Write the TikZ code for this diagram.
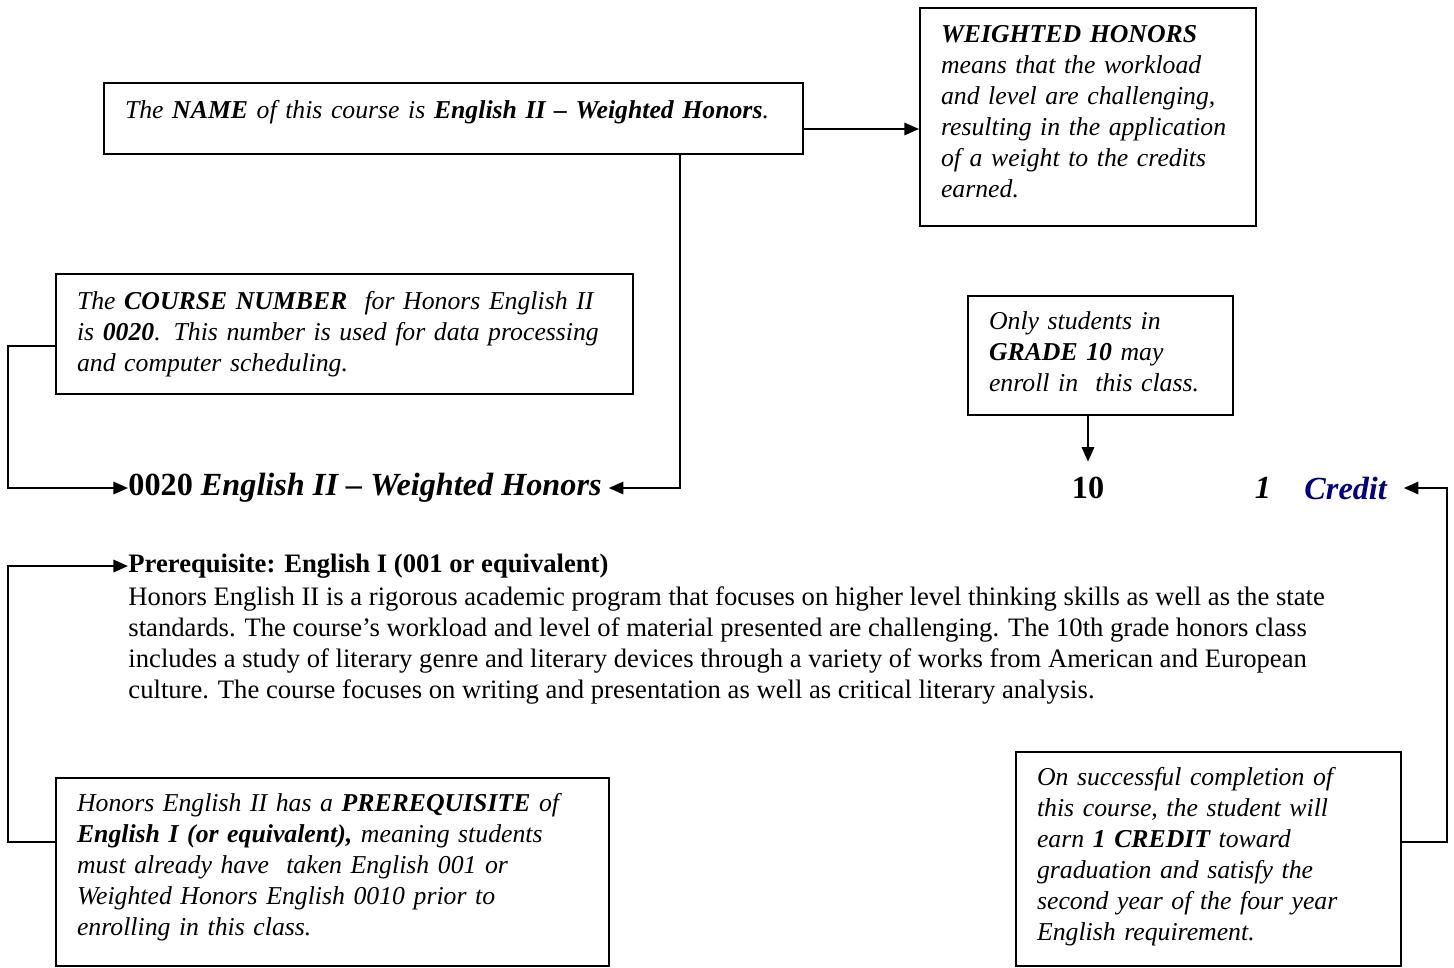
\documentclass[tikz,border=0pt]{standalone}
\usepackage{fontspec}
\setmainfont{Liberation Serif}
\usetikzlibrary{arrows.meta}
\definecolor{creditblue}{RGB}{0,0,128}
\newcommand{\lowpad}[1]{\rule[-#1]{0pt}{0pt}}

\begin{document}
\begin{tikzpicture}[x=0.4467pt, y=-0.4467pt,
    every node/.style={inner sep=0pt},
    infobox/.style={draw, line width=0.9pt, anchor=north west, align=left, inner xsep=9.4pt, inner ysep=0pt, font=\fontsize{11.5}{13.85}\selectfont\itshape},
    bigtext/.style={font=\fontsize{14.4}{16}\selectfont\bfseries},
    conn/.style={line width=0.9pt, -{Triangle[length=6.5pt, width=5.5pt]}}]
            \useasboundingbox (0,0) rectangle (1454,967);

            \node[infobox, text width=293.5pt, minimum height=31.7pt] (namebox) at (103,82) {The \textbf{NAME} of this course is \textbf{English II – Weighted Honors}.\lowpad{7.9pt}};
            \node[infobox, text width=131.3pt, minimum height=97.4pt] (weightbox) at (919,7) {\textbf{WEIGHTED HONORS}\\ means that the workload\\ and level are challenging,\\ resulting in the application\\ of a weight to the credits\\ earned.\lowpad{5.4pt}};
            \node[infobox, text width=239pt, minimum height=53.6pt] (numberbox) at (55,273) {The \textbf{COURSE NUMBER}\ \ for Honors English II\\ is \textbf{0020}. This number is used for data processing\\ and computer scheduling.};
            \node[infobox, text width=99.6pt, minimum height=53.2pt] (gradebox) at (967,295) {Only students in\\ \textbf{GRADE 10} may\\ enroll in\ \ this class.\lowpad{3.6pt}};
            \node[infobox, text width=228.3pt, minimum height=84pt] (prereqbox) at (55,777) {Honors English II has a \textbf{PREREQUISITE} of\\ \textbf{English I (or equivalent),} meaning students\\ must already have\ \ taken English 001 or\\ Weighted Honors English 0010 prior to\\ enrolling in this class.\lowpad{7pt}};
            \node[infobox, text width=153.2pt, minimum height=95.6pt] (creditbox) at (1015,751) {On successful completion of\\ this course, the student will\\ earn \textbf{1 CREDIT} toward\\ graduation and satisfy the\\ second year of the four year\\ English requirement.\lowpad{4.7pt}};

            \node[bigtext, anchor=west] (title) at (128,488) {0020 \textit{English II – Weighted Honors}};
            \node[bigtext] (grade) at (1088,488) {10};
            \node[bigtext] (one) at (1263,488) {\textit{1}};
            \node[bigtext, anchor=west, text=creditblue] (credit) at (1304,488) {\textit{Credit}};

            \node[anchor=west, font=\fontsize{11.9}{13.85}\selectfont\bfseries] (prereq) at (128,566) {Prerequisite: English I (001 or equivalent)};
            \node[anchor=north west, align=left, font=\fontsize{11.9}{13.85}\selectfont] (desc) at (128,586) {Honors English II is a rigorous academic program that focuses on higher level thinking skills as well as the state\\ standards. The course's workload and level of material presented are challenging. The 10th grade honors class\\ includes a study of literary genre and literary devices through a variety of works from American and European\\ culture. The course focuses on writing and presentation as well as critical literary analysis.};

            \draw[conn] (namebox.east |- 0,129) -- (weightbox.west |- 0,129);
            \draw[conn, shorten >=3pt] (namebox.south -| 680,0) |- (title.east);
            \draw[conn] (numberbox.west |- 0,346) -- (8,346) |- (title.west);
            \draw[conn, shorten >=6.7pt] (gradebox.south -| grade.north) -- (grade.north);
            \draw[conn, shorten >=7pt] (creditbox.east |- 0,842) -- (1447,842) |- (credit.east);
            \draw[conn] (prereqbox.west |- 0,842) -- (8,842) |- (prereq.west);
        \end{tikzpicture}
\end{document}
